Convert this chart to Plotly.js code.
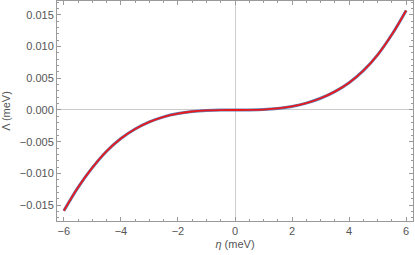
<!DOCTYPE html>
<html>
<head>
<meta charset="utf-8">
<script src="https://cdn.plot.ly/plotly-3.0.1.min.js"></script>
<style>html,body{margin:0;padding:0;background:#fff;}#chart{width:415px;height:255px;}</style>
</head>
<body>
<div id="chart"></div>
<script>
const eta = [-6, -5.5, -5, -4.5, -4, -3.5, -3, -2.5, -2, -1.5, -1, -0.5, 0, 0.5, 1, 1.5, 2, 2.5, 3, 3.5, 4, 4.5, 5, 5.5, 6];
const lambdaBlue = [-0.0159, -0.0122, -0.0091, -0.0065, -0.0045, -0.00300, -0.00188, -0.00108, -0.00056, -0.00024, -0.00007, -0.00001, 0, 0.00001, 0.00007, 0.00024, 0.00056, 0.00108, 0.00185, 0.0029, 0.0043, 0.0062, 0.0087, 0.0119, 0.0157];
const lambdaRed = [-0.0159, -0.0122, -0.0091, -0.0065, -0.0045, -0.00300, -0.00188, -0.00108, -0.00056, -0.00024, -0.00007, -0.00001, 0, 0.00001, 0.00007, 0.00024, 0.00056, 0.00108, 0.00185, 0.0029, 0.0043, 0.0062, 0.0087, 0.0119, 0.0157];
const xTicks = [-6, -4, -2, 0, 2, 4, 6];
const yTicks = [-0.015, -0.010, -0.005, 0.000, 0.005, 0.010, 0.015];

const frameColor = '#9a9a9a';
const textColor = '#555555';
const font = {family: 'Liberation Sans, Arial, sans-serif', size: 11, color: textColor};

const traces = [
  {x: eta, y: lambdaBlue, mode: 'lines', line: {color: '#5E81B5', width: 3, shape: 'spline'}, hoverinfo: 'none'},
  {x: eta, y: lambdaRed, mode: 'lines', line: {color: '#E8191E', width: 1.8, shape: 'spline'}, hoverinfo: 'none'}
];

const layout = {
  width: 415, height: 255,
  margin: {l: 57, r: 2, t: 1, b: 34},
  paper_bgcolor: '#fff', plot_bgcolor: '#fff',
  showlegend: false,
  font: font,
  xaxis: {
    range: [-6.24, 6.24],
    tickvals: xTicks, ticktext: xTicks.map(v => String(v).replace('-', '\u2212')),
    ticks: 'inside', ticklen: 4, tickcolor: frameColor, tickwidth: 1,
    minor: {dtick: 0.5, ticks: 'inside', ticklen: 2, tickcolor: frameColor, showgrid: false},
    showline: true, linecolor: frameColor, linewidth: 1, mirror: 'ticks',
    showgrid: false,
    zeroline: true, zerolinecolor: '#cccccc', zerolinewidth: 1,
    tickfont: font,
    title: {text: '<i>η</i> (meV)', font: font, standoff: 4}
  },
  yaxis: {
    range: [-0.01751, 0.01719],
    tickvals: yTicks, ticktext: yTicks.map(v => v.toFixed(3).replace('-', '\u2212')),
    ticks: 'inside', ticklen: 4, tickcolor: frameColor, tickwidth: 1,
    minor: {dtick: 0.001, ticks: 'inside', ticklen: 2, tickcolor: frameColor, showgrid: false},
    showline: true, linecolor: frameColor, linewidth: 1, mirror: 'ticks',
    showgrid: false,
    zeroline: true, zerolinecolor: '#cccccc', zerolinewidth: 1,
    tickfont: font,
    title: {text: 'Λ (meV)', font: font, standoff: 6}
  }
};

Plotly.newPlot('chart', traces, layout, {staticPlot: true, displayModeBar: false});
</script>
</body>
</html>
